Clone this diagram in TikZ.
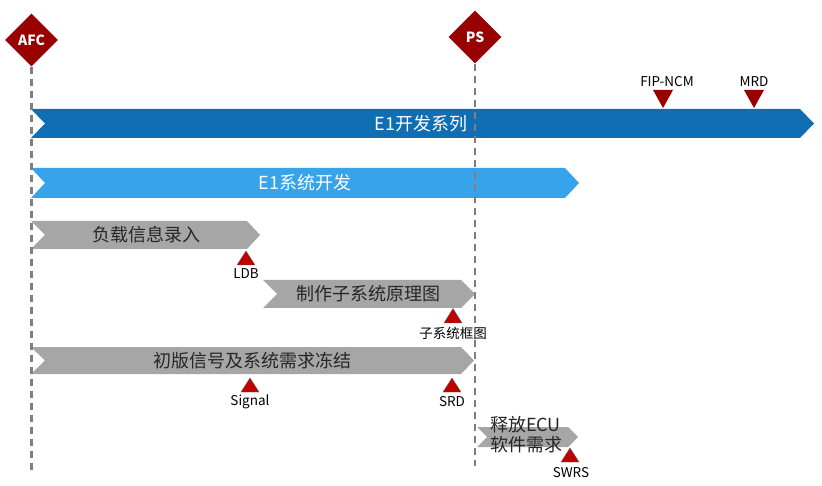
\documentclass[tikz,border=0pt]{standalone}
\usepackage{fontspec}
\setmainfont{Noto Sans CJK SC}
\usetikzlibrary{shapes.geometric}
\definecolor{dblue}{HTML}{106EB4}
\definecolor{lblue}{HTML}{37A3EB}
\definecolor{bgray}{HTML}{A6A6A6}
\definecolor{dred}{HTML}{990000}
\definecolor{tred}{HTML}{C00000}
\definecolor{lgray}{HTML}{7F7F7F}
\definecolor{txt}{HTML}{262626}
\begin{document}
\begin{tikzpicture}[x=1pt,y=-1pt,
  milestone/.style={diamond, fill=dred, text=white, minimum width=53pt, minimum height=53pt, inner sep=0pt, font=\fontsize{14}{14}\selectfont\bfseries},
  bartext/.style={inner sep=0pt, font=\fontsize{18}{20}\selectfont},
  lbl/.style={inner sep=0pt, text=black, font=\fontsize{13.5}{14}\selectfont},
  tri/.style={fill=tred, draw=black!60, line width=0.4pt},
  tline/.style={draw=lgray, line width=2.2pt, dash pattern=on 7pt off 5pt}
]
\useasboundingbox (0,0) rectangle (822,486);

% bars
\fill[dblue] (31,109) -- (800,109) -- (814,123.5) -- (800,138) -- (31,138) -- (45,123.5) -- cycle;
\node[bartext, text=white] (b1) at (421,123.5) {E1开发系列};

\fill[lblue] (31,168) -- (565,168) -- (579,183) -- (565,198) -- (31,198) -- (45,183) -- cycle;
\node[bartext, text=white] (b2) at (305,183) {E1系统开发};

\fill[bgray] (31,221) -- (247,221) -- (260,235) -- (247,249) -- (31,249) -- (45,235) -- cycle;
\node[bartext, text=txt] (b3) at (146,235) {负载信息录入};

\fill[bgray] (263,280) -- (461,280) -- (475,294) -- (461,308) -- (263,308) -- (277,294) -- cycle;
\node[bartext, text=txt] (b4) at (368,294) {制作子系统原理图};

\fill[bgray] (31,347) -- (461,347) -- (474,360.5) -- (461,374) -- (31,374) -- (45,360.5) -- cycle;
\node[bartext, text=txt] (b5) at (252,360.5) {初版信号及系统需求冻结};

\fill[bgray] (477,427) -- (568,427) -- (578,437) -- (568,447) -- (477,447) -- (487,437) -- cycle;
\node[bartext, text=txt, align=left] (b6) at (526,435) {释放ECU\\软件需求};

% up triangles
\draw[tri] (237,265) -- (246,251) -- (255,265) -- cycle;
\node[lbl] (ldb) at (246,274) {LDB};
\draw[tri] (444,323) -- (453,308.5) -- (462,323) -- cycle;
\node[lbl] (zxt) at (453,333) {子系统框图};
\draw[tri] (241,392) -- (250,378) -- (259,392) -- cycle;
\node[lbl] (sig) at (250,402) {Signal};
\draw[tri] (443,392) -- (452,378) -- (461,392) -- cycle;
\node[lbl] (srd) at (452,402) {SRD};
\draw[tri] (561,462) -- (570,448) -- (579,462) -- cycle;
\node[lbl] (swrs) at (571,473) {SWRS};

% down triangles
\fill[dred] (653,90) -- (673,90) -- (663,108) -- cycle;
\node[lbl] (fip) at (667,82) {FIP-NCM};
\fill[dred] (744,90) -- (764,90) -- (754,108) -- cycle;
\node[lbl] (mrd) at (754,82) {MRD};

% milestones
\node[milestone] (afc) at (31.5,40) {AFC};
\node[milestone] (ps) at (475,37) {PS};
\coordinate (afcend) at (31.5,470);
\coordinate (psend) at (475,466);
\draw[tline] (afc.south) -- (afcend);
\draw[tline] (ps.south) -- (psend);
\end{tikzpicture}
\end{document}
